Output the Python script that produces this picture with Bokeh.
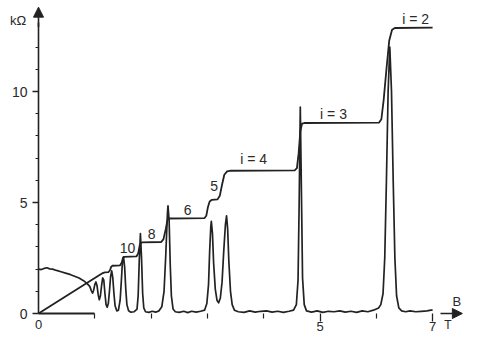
from bokeh.plotting import figure
from bokeh.models import (ColumnDataSource, Range1d, LinearAxis, FixedTicker,
                          Arrow, NormalHead)
from bokeh.core.properties import value
from bokeh.embed import file_html
from bokeh.resources import INLINE

# ---- data (B in tesla, R in kOhm) ----
rxx_b = [0.00, 0.05, 0.10, 0.15, 0.20, 0.25, 0.32, 0.40, 0.48, 0.56, 0.64, 0.72,
         0.80, 0.86, 0.91, 0.94, 0.96, 0.98, 1.00, 1.02, 1.04, 1.06, 1.08, 1.10,
         1.12, 1.14, 1.16, 1.18, 1.20, 1.22, 1.24, 1.26, 1.28, 1.30, 1.32, 1.34,
         1.36, 1.39, 1.42, 1.45, 1.47, 1.49, 1.51, 1.53, 1.55, 1.57, 1.60, 1.64,
         1.70, 1.75, 1.77, 1.79, 1.81, 1.83, 1.85, 1.87, 1.90, 1.96, 2.02, 2.08,
         2.14, 2.19, 2.23, 2.26, 2.29, 2.30, 2.32, 2.34, 2.36, 2.39, 2.43, 2.50,
         2.58, 2.65, 2.72, 2.80, 2.88, 2.95, 2.99, 3.02, 3.04, 3.06, 3.07, 3.09,
         3.11, 3.14, 3.17, 3.20, 3.23, 3.26, 3.29, 3.32, 3.34, 3.36, 3.38, 3.41,
         3.44, 3.48, 3.55, 3.65, 3.75, 3.85, 3.95, 4.05, 4.15, 4.25, 4.35, 4.45,
         4.53, 4.58, 4.61, 4.63, 4.65, 4.67, 4.69, 4.72, 4.76, 4.85, 4.95, 5.05,
         5.15, 5.25, 5.35, 5.45, 5.55, 5.65, 5.75, 5.85, 5.95, 6.04, 6.08, 6.12,
         6.15, 6.18, 6.21, 6.24, 6.27, 6.30, 6.33, 6.36, 6.40, 6.45, 6.52, 6.60,
         6.70, 6.80, 6.90, 6.97, 7.00]
rxx_r = [2.00, 1.98, 2.03, 2.06, 2.01, 2.00, 1.94, 1.88, 1.82, 1.76, 1.68, 1.60,
         1.48, 1.36, 1.22, 1.02, 0.92, 1.05, 1.30, 1.42, 1.25, 0.85, 0.62, 0.80,
         1.25, 1.60, 1.50, 0.90, 0.40, 0.28, 0.45, 1.00, 1.65, 1.92, 1.60, 0.90,
         0.35, 0.12, 0.15, 0.60, 1.40, 2.30, 2.55, 2.10, 1.10, 0.40, 0.12, 0.06,
         0.08, 0.20, 0.80, 2.40, 3.60, 2.50, 0.90, 0.25, 0.08, 0.05, 0.10, 0.06,
         0.12, 0.30, 1.00, 2.60, 4.50, 4.85, 4.20, 2.20, 0.80, 0.20, 0.08, 0.05,
         0.10, 0.04, 0.10, 0.06, 0.10, 0.15, 0.45, 1.30, 2.80, 3.90, 4.15, 3.60,
         2.30, 1.10, 0.60, 0.48, 0.70, 1.40, 2.80, 4.00, 4.40, 3.80, 2.40, 1.00,
         0.40, 0.15, 0.08, 0.05, 0.12, 0.06, 0.10, 0.12, 0.06, 0.10, 0.05, 0.10,
         0.15, 0.40, 1.50, 5.00, 9.30, 5.50, 1.60, 0.40, 0.12, 0.06, 0.12, 0.05,
         0.10, 0.08, 0.12, 0.06, 0.10, 0.05, 0.12, 0.08, 0.15, 0.25, 0.40, 0.90,
         2.50, 6.00, 10.00, 12.00, 10.00, 6.00, 2.50, 0.80, 0.25, 0.12, 0.08, 0.12,
         0.08, 0.10, 0.12, 0.15, 0.15]

rxy_b = [0.00, 0.50, 1.00, 1.12, 1.15, 1.18, 1.24, 1.27, 1.29, 1.31, 1.45, 1.48,
         1.50, 1.52, 1.74, 1.77, 1.80, 1.83, 2.18, 2.22, 2.26, 2.29, 2.32, 2.95,
         2.98, 3.01, 3.04, 3.08, 3.18, 3.22, 3.26, 3.30, 3.35, 3.40, 4.55, 4.59,
         4.62, 4.65, 4.68, 4.72, 6.05, 6.09, 6.13, 6.18, 6.23, 6.28, 6.33, 7.00]
rxy_r = [0.00, 0.80, 1.60, 1.79, 1.83, 1.85, 1.86, 1.95, 2.10, 2.15, 2.17, 2.30,
         2.50, 2.55, 2.57, 2.70, 3.10, 3.20, 3.22, 3.35, 3.80, 4.20, 4.28, 4.30,
         4.40, 4.80, 5.05, 5.12, 5.14, 5.30, 5.80, 6.25, 6.40, 6.43, 6.45, 6.55,
         7.20, 8.20, 8.55, 8.58, 8.60, 8.75, 9.60, 11.00, 12.30, 12.78, 12.86, 12.88]

label_text = ["10", "8", "6", "5", "i = 4", "i = 3", "i = 2"]
label_b = [1.58, 2.01, 2.65, 3.12, 3.82, 5.24, 6.70]
label_r = [2.95, 3.60, 4.68, 5.75, 6.95, 9.00, 13.25]

y_major = [0, 5, 10]
y_minor = [1, 2, 3, 4, 6, 7, 8, 9, 11, 12]
x_major = [5, 7]
x_minor = [1, 2, 3, 4, 6]

INK = "#222222"
TXT = "#2a2a2a"
FONT = "Liberation Sans"

W, H = 463, 333
px_b, px_r = 56.3, 22.2
x0_px, y0_px = 38, 313

p = figure(width=W, height=H, output_backend="svg", toolbar_location=None,
           x_range=Range1d(-x0_px / px_b, (W - x0_px) / px_b),
           y_range=Range1d(-(H - y0_px) / px_r, y0_px / px_r),
           x_axis_location=None, y_axis_location=None, min_border=0)
p.outline_line_color = None
p.grid.visible = False
p.background_fill_color = "white"
p.border_fill_color = "white"

# y axis at B = 0
yax = LinearAxis(fixed_location=0, bounds=(0, 13.1),
                 ticker=FixedTicker(ticks=y_major, minor_ticks=y_minor))
yax.axis_line_color = INK
yax.axis_line_width = 1.6
yax.major_tick_line_color = INK
yax.major_tick_line_width = 1.3
yax.minor_tick_line_color = INK
yax.minor_tick_line_width = 1.2
yax.major_tick_in = 0
yax.major_tick_out = 6
yax.minor_tick_in = 0
yax.minor_tick_out = 3
yax.major_label_standoff = 5
yax.major_label_text_font = FONT
yax.major_label_text_font_size = "14px"
yax.major_label_text_color = TXT
p.add_layout(yax, "left")

# x axis ticks at R = 0
xax = LinearAxis(fixed_location=0,
                 ticker=FixedTicker(ticks=x_major, minor_ticks=x_minor))
xax.axis_line_color = None
xax.major_tick_line_color = INK
xax.major_tick_line_width = 1.3
xax.minor_tick_line_color = INK
xax.minor_tick_line_width = 1.2
xax.major_tick_in = 0
xax.major_tick_out = 8
xax.minor_tick_in = 0
xax.minor_tick_out = 5
xax.major_label_standoff = 0
xax.major_label_text_font = FONT
xax.major_label_text_font_size = "13px"
xax.major_label_text_color = TXT
p.add_layout(xax, "below")

# "0" label of the x axis and the short axis line from 0 to 1 T
x0ax = LinearAxis(fixed_location=0, bounds=(0, 1), ticker=FixedTicker(ticks=[0]))
x0ax.axis_line_color = INK
x0ax.axis_line_width = 2
x0ax.major_tick_line_color = None
x0ax.minor_tick_line_color = None
x0ax.major_tick_in = 0
x0ax.major_tick_out = 6
x0ax.major_label_standoff = 0
x0ax.major_label_text_font = FONT
x0ax.major_label_text_font_size = "13px"
x0ax.major_label_text_color = TXT
p.add_layout(x0ax, "below")

# arrows on the axes
p.add_layout(Arrow(end=NormalHead(size=10, fill_color=INK, line_color=INK),
                   x_start=0, y_start=12.9, x_end=0, y_end=p.y_range.end - 0.3,
                   line_color=INK, line_width=1.6))
p.add_layout(Arrow(end=NormalHead(size=10, fill_color=INK, line_color=INK),
                   x_start=7.14, y_start=0, x_end=p.x_range.end - 0.02, y_end=0,
                   line_color=INK, line_width=1.6))

# traces
p.line(rxx_b, rxx_r, line_color=INK, line_width=1.7, line_join="round")
p.line(rxy_b, rxy_r, line_color=INK, line_width=1.8, line_join="round")

# plateau labels
src = ColumnDataSource(dict(x=label_b, y=label_r, t=label_text))
p.text(x="x", y="y", text="t", source=src, text_font=value(FONT),
       text_font_size="14px", text_color=TXT, text_align="center",
       text_baseline="middle")

# axis names
p.text(x=[-0.36], y=[13.2], text=["kΩ"], text_font=value(FONT),
       text_font_size="13px", text_color=TXT, text_align="center",
       text_baseline="middle")
p.text(x=[7.43], y=[0.55], text=["B"], text_font=value(FONT),
       text_font_size="13px", text_color=TXT, text_align="center",
       text_baseline="middle")
p.text(x=[7.27], y=[-0.50], text=["T"], text_font=value(FONT),
       text_font_size="12px", text_color=TXT, text_align="center",
       text_baseline="middle")

open("out.html", "w").write(file_html(p, INLINE))
